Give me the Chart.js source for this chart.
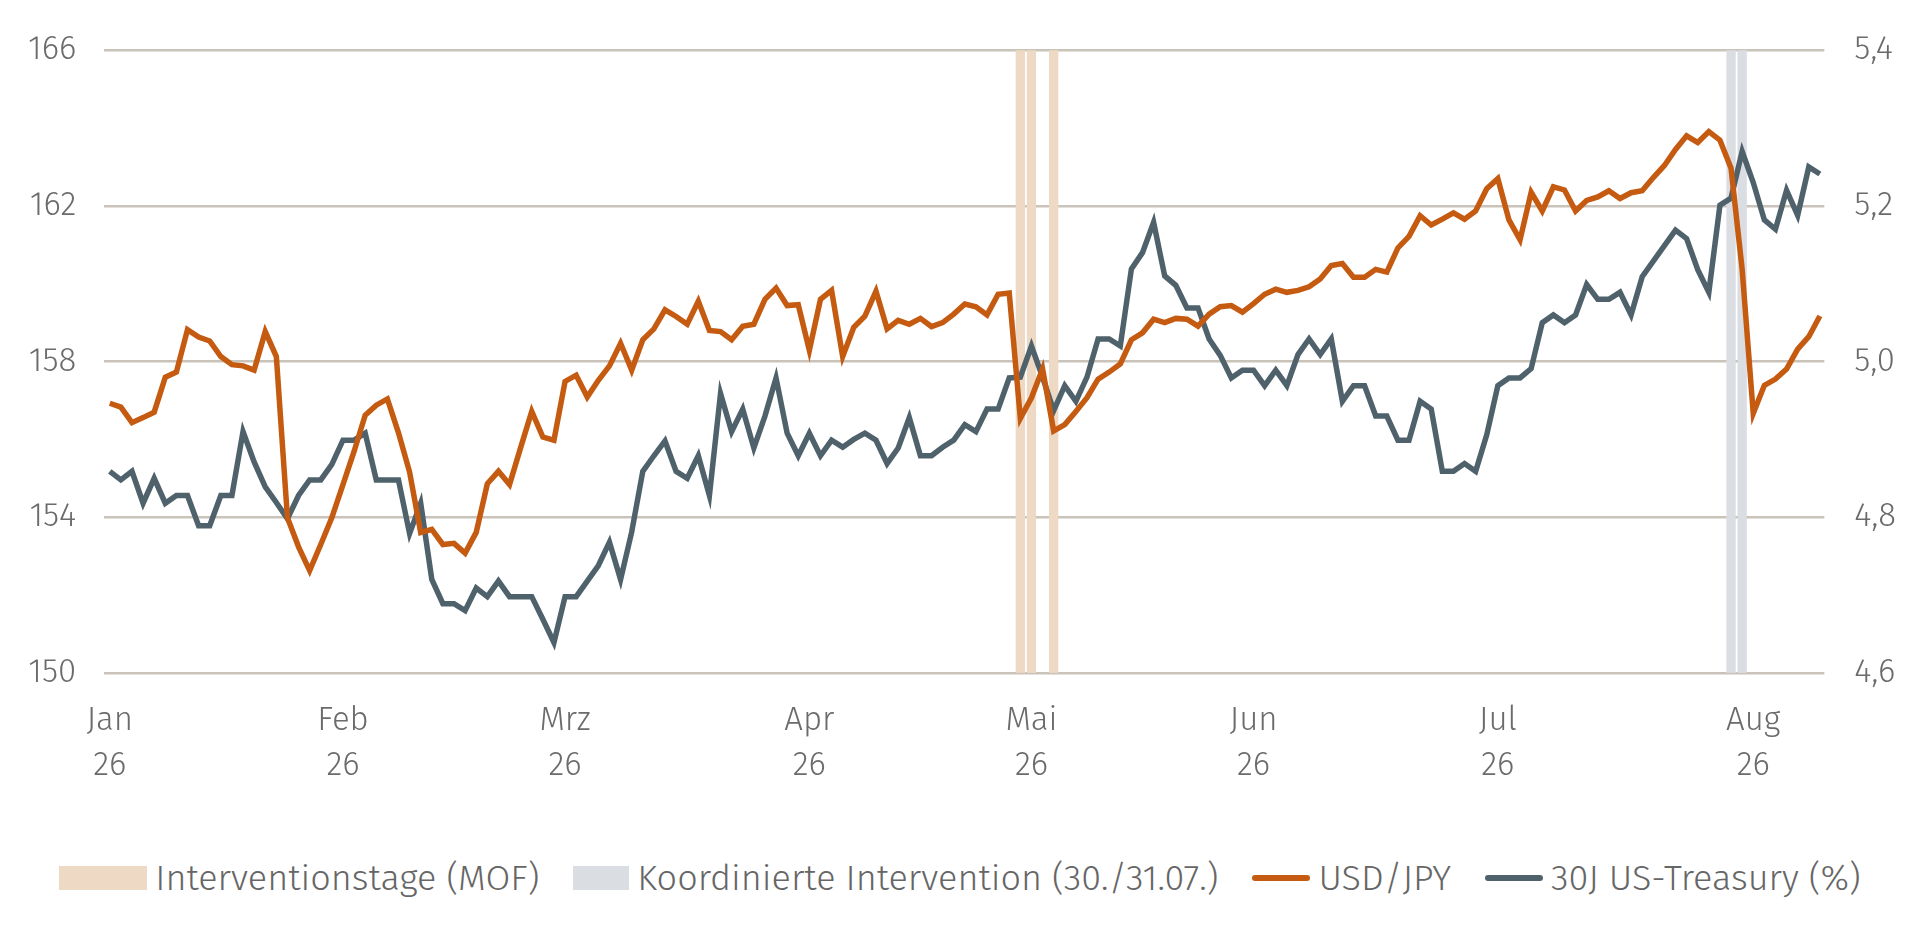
<!DOCTYPE html>
<html><head><meta charset="utf-8">
<script src="https://cdn.jsdelivr.net/npm/chart.js@4"></script>
<style>
html,body{margin:0;padding:0;background:#fff;width:1920px;height:928px;overflow:hidden;font-family:"Fira Sans","Open Sans",sans-serif;}
#wrap{position:absolute;left:0;top:0;width:1920px;height:806px;}
#legend{position:absolute;left:0;top:856px;width:1920px;display:flex;justify-content:center;align-items:center;font-size:36px;color:#666;font-weight:300;}
.it{display:flex;align-items:center;margin:0 17px;}
.bx{height:24px;margin-right:8px;}
.ln{width:58px;height:6px;margin-right:8px;}
</style></head><body>
<div id="wrap"><canvas id="c"></canvas></div>
<div id="legend"></div>
<script>
const MONTHS = ["Jan","Feb","Mrz","Apr","Mai","Jun","Jul","Aug"];
const YEAR = "26";
const MONTH_START_IDX = [0,21,41,63,83,103,125,148];
const MOF_DAYS = [82,83,85];
const COORD_DAYS = [146,147];
const USDJPY = [
156.93,156.83,156.43,156.56,156.70,157.60,157.73,158.82,158.63,158.53,158.13,157.92,157.89,157.78,158.77,158.13,153.99,153.24,152.63,153.30,
153.99,154.84,155.69,156.62,156.88,157.04,156.17,155.16,153.61,153.69,153.30,153.33,153.08,153.61,154.86,155.18,154.84,155.79,156.72,156.06,
155.98,157.49,157.65,157.09,157.52,157.89,158.47,157.78,158.56,158.84,159.33,159.16,158.96,159.55,158.80,158.77,158.56,158.91,158.96,159.60,
159.89,159.44,159.46,158.29,159.60,159.83,158.13,158.88,159.17,159.81,158.84,159.06,158.96,159.11,158.90,159.00,159.22,159.48,159.41,159.20,
159.73,159.76,156.54,157.07,157.81,156.22,156.38,156.72,157.07,157.55,157.73,157.94,158.56,158.74,159.09,159.00,159.11,159.09,158.91,159.22,
159.41,159.44,159.27,159.49,159.73,159.86,159.78,159.83,159.92,160.12,160.47,160.52,160.17,160.17,160.37,160.30,160.92,161.22,161.75,161.51,
161.66,161.82,161.66,161.87,162.44,162.70,161.64,161.13,162.35,161.87,162.49,162.41,161.87,162.14,162.23,162.39,162.19,162.34,162.39,162.73,
163.04,163.45,163.80,163.63,163.91,163.69,162.97,160.37,156.67,157.39,157.55,157.81,158.32,158.64,159.17];
const UST30 = [
4.859,4.848,4.859,4.818,4.850,4.818,4.828,4.828,4.789,4.789,4.828,4.828,4.910,4.871,4.839,4.819,4.798,4.828,4.848,4.848,
4.868,4.899,4.899,4.908,4.848,4.848,4.848,4.779,4.818,4.720,4.689,4.689,4.680,4.709,4.698,4.718,4.698,4.698,4.698,4.669,
4.639,4.698,4.698,4.718,4.738,4.768,4.720,4.781,4.859,4.879,4.898,4.859,4.850,4.879,4.828,4.959,4.910,4.939,4.889,4.930,
4.979,4.908,4.879,4.908,4.879,4.899,4.890,4.900,4.908,4.899,4.869,4.889,4.928,4.879,4.879,4.890,4.899,4.919,4.910,4.939,
4.939,4.979,4.980,5.020,4.980,4.937,4.969,4.949,4.980,5.029,5.029,5.020,5.119,5.140,5.179,5.110,5.098,5.069,5.069,5.029,
5.008,4.979,4.989,4.989,4.969,4.989,4.969,5.009,5.029,5.009,5.029,4.949,4.969,4.969,4.930,4.930,4.899,4.899,4.949,4.939,
4.859,4.859,4.869,4.859,4.906,4.969,4.979,4.979,4.991,5.050,5.060,5.050,5.060,5.099,5.080,5.080,5.089,5.060,5.109,5.129,
5.149,5.169,5.158,5.118,5.089,5.201,5.210,5.270,5.230,5.182,5.170,5.220,5.188,5.250,5.241];
const LEFT_TICKS = [150,154,158,162,166];
const RIGHT_TICKS = [4.6,4.8,5.0,5.2,5.4];
const LEGEND = [
 {t:"Interventionstage (MOF)", kind:"box", c:"#EED9C4", w:88},
 {t:"Koordinierte Intervention (30./31.07.)", kind:"box", c:"#DADDE2", w:56},
 {t:"USD/JPY", kind:"line", c:"#C55A11"},
 {t:"30J US-Treasury (%)", kind:"line", c:"#4F626C"}];

const ORANGE="#C55A11", SLATE="#4F626C", GRID="#C9C3B9", TXT="#6b6b6b";
const FONT={family:"'Fira Sans','Open Sans',sans-serif",size:33,weight:300,lineHeight:1.35};

const bands={id:'bands',beforeDatasetsDraw(ch){
  const x=ch.scales.x,a=ch.chartArea,ctx=ch.ctx;
  const draw=(days,col)=>{days.forEach(d=>{const l=x.getPixelForValue(d-0.42),r=x.getPixelForValue(d+0.42);
    ctx.fillStyle=col;ctx.fillRect(l,a.top,r-l,a.bottom-a.top);});};
  ctx.save();draw(MOF_DAYS,"#EED9C4");draw(COORD_DAYS,"#DADDE2");ctx.restore();}};

new Chart(document.getElementById('c'),{
 type:'line',
 data:{datasets:[
  {label:"USD/JPY",data:USDJPY.map((v,i)=>({x:i,y:v})),borderColor:ORANGE,borderWidth:5.5,pointRadius:0,yAxisID:'y',tension:0},
  {label:"30J US-Treasury (%)",data:UST30.map((v,i)=>({x:i,y:v})),borderColor:SLATE,borderWidth:5.5,pointRadius:0,yAxisID:'y1',tension:0}]},
 options:{responsive:true,maintainAspectRatio:false,animation:false,
  layout:{padding:{left:0,right:2,top:32,bottom:0}},
  plugins:{legend:{display:false},tooltip:{enabled:false}},
  scales:{
   x:{type:'linear',min:-0.5,max:154.4,
      afterBuildTicks(ax){ax.ticks=MONTH_START_IDX.map(v=>({value:v}));},
      ticks:{autoSkip:false,maxRotation:0,color:TXT,font:FONT,padding:18,
        callback(v){const i=MONTH_START_IDX.indexOf(v);return i<0?'':[MONTHS[i],YEAR];}},
      grid:{display:false},border:{display:false}},
   y:{position:'left',min:150,max:166,
      afterBuildTicks(ax){ax.ticks=LEFT_TICKS.map(v=>({value:v}));},
      ticks:{color:TXT,font:FONT,padding:28},
      grid:{color:GRID,lineWidth:2.5,drawTicks:false},border:{display:false}},
   y1:{position:'right',min:4.6,max:5.4,
      afterBuildTicks(ax){ax.ticks=RIGHT_TICKS.map(v=>({value:v}));},
      ticks:{color:TXT,font:FONT,padding:22,callback:v=>v.toFixed(1).replace('.',',')},
      grid:{display:false},border:{display:false}}}},
 plugins:[bands]});

const lg=document.getElementById('legend');
LEGEND.forEach(o=>{const d=document.createElement('div');d.className='it';
 const s=document.createElement('span');s.className=o.kind==='box'?'bx':'ln';s.style.background=o.c;
 if(o.w)s.style.width=o.w+'px';
 if(o.kind==='line')s.style.borderRadius='3px';
 d.appendChild(s);d.appendChild(document.createTextNode(o.t));lg.appendChild(d);});
</script></body></html>
